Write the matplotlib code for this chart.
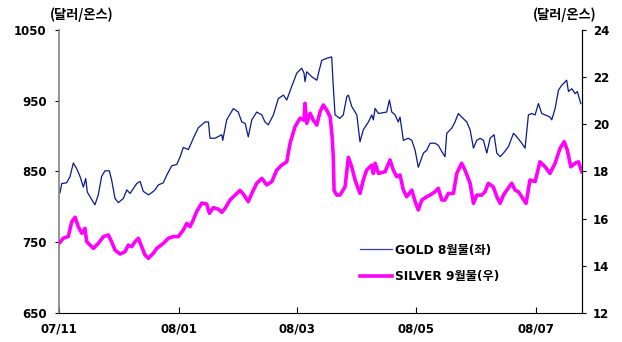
import numpy as np
import pandas as pd
import matplotlib
matplotlib.use("Agg")
import matplotlib.pyplot as plt
import matplotlib.dates as mdates

plt.rcParams['font.family'] = ['DejaVu Sans', 'Noto Sans CJK KR']

start = pd.Timestamp("2007-11-01")

# gold, Aug contract (left axis, $/oz) -- day offsets from 2007-11-01
gold_day = [0.5, 1.4, 3.9, 5.6, 7.3, 9.0, 10.7, 12.4, 13.6, 14.4, 16.7, 18.3, 20.0, 21.7,
            23.4, 25.6, 26.8, 28.5, 30.2, 32.8, 34.5, 36.2, 37.9, 39.6, 41.3, 42.9, 45.5,
            47.2, 48.9, 50.6, 53.1, 54.9, 57.4, 60.0, 61.7, 63.3, 65.9, 68.4, 71.0, 74.4,
            76.1, 76.9, 79.5, 82.9, 83.4, 85.4, 88.8, 91.3, 93.1, 94.8, 96.4, 98.2, 100.7,
            103.3, 104.9, 106.6, 109.2, 111.7, 114.3, 116.0, 118.5, 121.1, 123.6, 124.8,
            125.3, 126.2, 128.7, 131.3, 133.8, 136.4, 138.9, 139.6, 140.6, 143.1, 144.8,
            146.6, 147.4, 149.1, 151.7, 153.3, 155.0, 157.6, 159.3, 160.1, 161.0, 162.7,
            166.9, 168.3, 169.5, 171.2, 172.8, 173.7, 175.4, 177.9, 179.7, 181.4, 183.0,
            185.6, 187.3, 189.0, 191.5, 193.2, 195.0, 196.6, 197.5, 200.0, 201.7, 203.4,
            205.1, 207.7, 209.4, 211.1, 212.8, 214.5, 216.2, 217.9, 219.6, 221.6, 223.0,
            224.7, 226.4, 228.9, 231.5, 233.2, 235.7, 237.4, 239.1, 240.8, 242.5, 244.2,
            245.9, 247.6, 250.1, 251.0, 252.7, 254.4, 256.1, 258.6, 259.5, 261.2, 262.9,
            264.0, 265.8]
gold = [820, 833, 834, 843, 862, 854, 843, 828, 840, 821, 810, 803, 817, 843,
        851, 851, 838, 812, 806, 812, 824, 819, 826, 833, 836, 822, 817,
        820, 824, 831, 834, 845, 858, 860, 871, 884, 881, 897, 912, 920,
        920, 897, 897, 902, 894, 923, 939, 934, 920, 918, 899, 923, 934,
        930, 920, 916, 930, 953, 958, 951, 970, 989, 996, 989,
        977, 991, 984, 979, 1007, 1010, 1012, 975, 930, 925, 930,
        956, 958, 942, 930, 892, 909, 920, 930, 923, 939, 932,
        934, 951, 934, 930, 920, 927, 894, 897, 894, 880, 856,
        876, 880, 890, 890, 887, 878, 871, 904, 911, 920, 932,
        927, 920, 909, 883, 894, 897, 894, 876, 897, 902, 876,
        871, 876, 885, 904, 899, 890, 883, 930, 932, 930, 946,
        932, 930, 927, 923, 939, 965, 972, 979, 963, 967, 960,
        963, 946]

# silver, Sep contract (right axis, $/oz)
silver_day = [0.5, 2.2, 4.7, 6.5, 8.2, 9.8, 11.6, 13.2, 14.1, 15.8, 17.5, 20.0, 22.6, 25.1,
              26.8, 28.5, 31.1, 33.6, 35.3, 37.0, 38.7, 40.4, 42.1, 43.8, 45.5, 48.0, 49.8,
              53.1, 55.7, 58.2, 60.8, 63.3, 65.1, 66.7, 68.4, 70.1, 72.7, 75.2, 76.6, 78.6,
              81.2, 82.9, 84.6, 87.1, 89.7, 92.2, 93.9, 96.4, 98.2, 100.7, 103.3, 105.8,
              108.4, 110.9, 113.4, 116.0, 117.7, 120.2, 122.8, 124.8, 125.3, 126.2, 127.9,
              129.5, 131.3, 133.0, 134.6, 136.4, 138.1, 139.1, 139.7, 140.1, 141.5, 143.1,
              145.7, 147.4, 149.1, 150.8, 153.3, 155.0, 156.7, 159.3, 160.1, 161.0, 162.7,
              166.1, 168.6, 170.3, 172.0, 173.7, 175.4, 177.1, 179.7, 181.4, 183.0, 184.8,
              187.3, 189.0, 191.5, 193.2, 195.0, 196.6, 198.3, 200.9, 202.6, 205.1, 206.8,
              209.4, 211.1, 212.8, 215.3, 217.0, 218.7, 221.2, 223.0, 224.7, 226.4, 228.1,
              230.6, 232.3, 234.0, 235.7, 237.9, 239.9, 242.5, 245.0, 247.6, 250.1, 252.7,
              255.2, 257.3, 258.9, 260.7, 262.9, 264.6, 266.3]
silver = [15.0, 15.17, 15.24, 15.87, 16.06, 15.66, 15.38, 15.59, 15.02, 14.88, 14.74, 14.95, 15.24, 15.31,
          15.02, 14.67, 14.50, 14.60, 14.88, 14.81, 15.02, 15.17, 14.81, 14.46, 14.32, 14.53, 14.74,
          14.95, 15.17, 15.24, 15.24, 15.52, 15.80, 15.66, 15.95, 16.30, 16.66, 16.62, 16.23, 16.47,
          16.40, 16.27, 16.44, 16.79, 17.0, 17.20, 17.04, 16.72, 17.07, 17.50, 17.71, 17.43,
          17.57, 18.06, 18.27, 18.41, 19.20, 19.90, 20.26, 20.18, 20.89, 20.04, 20.47,
          20.18, 19.97, 20.54, 20.82, 20.60, 20.32, 19.5, 18.63, 17.20, 17.0, 17.0,
          17.35, 18.6, 18.2, 17.64, 17.07, 17.64, 18.06, 18.27, 17.92, 18.35, 17.92,
          17.99, 18.49, 18.06, 17.78, 17.85, 17.21, 16.93, 17.21, 16.72, 16.37, 16.79,
          16.93, 17.0, 17.14, 17.29, 16.79, 16.79, 17.07, 17.07, 17.92, 18.35, 18.06,
          17.50, 16.65, 17.0, 17.0, 17.14, 17.50, 17.35, 16.93, 16.65, 17.0, 17.21,
          17.50, 17.21, 17.14, 16.93, 16.65, 17.64, 17.57, 18.41, 18.20, 17.92, 18.35,
          18.98, 19.26, 18.91, 18.20, 18.35, 18.41, 17.99]

tick_dates = ["2007-11-01", "2008-01-01", "2008-03-01", "2008-05-01", "2008-07-01"]

gold_x = start + pd.to_timedelta(gold_day, unit="D")
silver_x = start + pd.to_timedelta(silver_day, unit="D")

fig = plt.figure(figsize=(6.22, 3.42), dpi=100)
ax = fig.add_axes([0.0949, 0.0848, 0.8408, 0.8275])
ax2 = ax.twinx()

l1, = ax.plot(gold_x, gold, color="#0a1a8c", lw=0.9, label="GOLD 8월물(좌)")
l2, = ax2.plot(silver_x, silver, color="#ff00ff", lw=2.6, label="SILVER 9월물(우)")

ax.set_xlim(start, start + pd.Timedelta(days=266.4))
ax.set_ylim(650, 1050)
ax.set_yticks([650, 750, 850, 950, 1050])
ax2.set_ylim(12, 24)
ax2.set_yticks([12, 14, 16, 18, 20, 22, 24])
ax.set_xticks(pd.to_datetime(tick_dates))
ax.xaxis.set_major_formatter(mdates.DateFormatter("%y/%m"))

for a in (ax, ax2):
    a.spines["top"].set_visible(False)
ax.spines["left"].set_color("#808080")
ax.spines["left"].set_linewidth(1.2)
ax.spines["bottom"].set_color("black")
ax2.spines["left"].set_visible(False)
ax2.spines["bottom"].set_visible(False)
ax2.spines["right"].set_color("black")

ax.tick_params(axis="y", direction="out", length=3, width=0.8, pad=6)
ax.tick_params(axis="x", direction="in", length=4, width=0.8, pad=7)
ax2.tick_params(axis="y", direction="out", length=3, width=0.8, pad=5)
for lab in ax.get_xticklabels() + ax.get_yticklabels() + ax2.get_yticklabels():
    lab.set_fontsize(8.5)
    lab.set_fontweight("bold")

unit_font = dict(fontsize=9.5, fontweight="bold", family=["Noto Sans CJK KR", "DejaVu Sans"],
                 ha="center", va="center")
fig.text(0.131, 0.956, "(달러/온스)", **unit_font)
fig.text(0.908, 0.956, "(달러/온스)", **unit_font)

leg = ax.legend(handles=[l1, l2], loc="lower left", bbox_to_anchor=(0.56, 0.075),
                frameon=False, handlelength=2.6, handletextpad=0.25, labelspacing=1.1,
                borderpad=0.2,
                prop=dict(family=["DejaVu Sans", "Noto Sans CJK KR"], size=8.8, weight="bold"))
leg.get_lines()[0].set_color("#3040a8")

fig.savefig("out.png", dpi=100)
